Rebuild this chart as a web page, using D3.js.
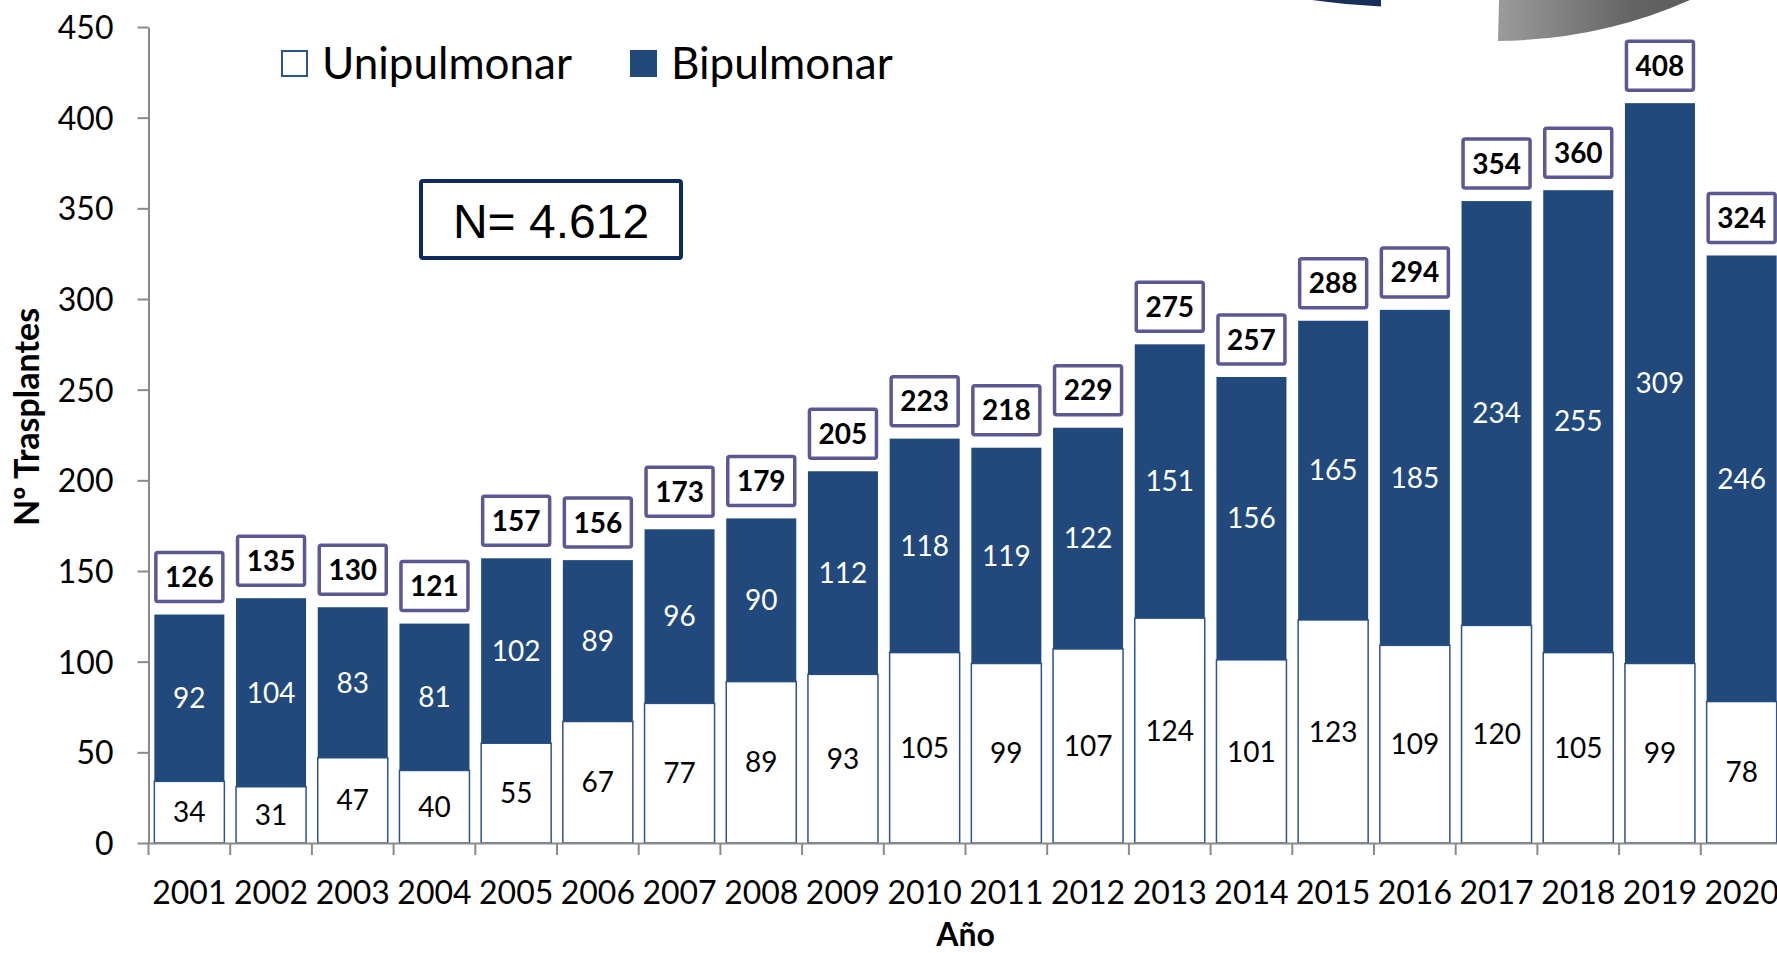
<!DOCTYPE html>
<html>
<head>
<meta charset="utf-8">
<script src="https://cdn.jsdelivr.net/npm/d3@7"></script>
<style>
  body { margin: 0; background: #fff; }
  svg { display: block; }
  .axis path, .axis line { stroke: #8a8a8a; stroke-width: 2; }
  .axis text { font-family: Lato, sans-serif; font-size: 32px; fill: #000; }
</style>
</head>
<body>
<div id="chart"></div>
<script>
// data
const years = ['2001','2002','2003','2004','2005','2006','2007','2008','2009','2010',
               '2011','2012','2013','2014','2015','2016','2017','2018','2019','2020'];
const unipulmonar = [34,31,47,40,55,67,77,89,93,105,99,107,124,101,123,109,120,105,99,78];
const bipulmonar = [92,104,83,81,102,89,96,90,112,118,119,122,151,156,165,185,234,255,309,246];
const yTicks = [0,50,100,150,200,250,300,350,400,450];
const seriesNames = ['Unipulmonar', 'Bipulmonar'];
const totalText = 'N= 4.612';

const width = 1777, height = 953;
const margin = { left: 148.5, top: 27, bottom: 843, right: 1782.5 };
const blue = '#21497c';

const svg = d3.select('#chart').append('svg')
  .attr('width', width)
  .attr('height', height);

const rows = years.map((yr, i) => ({ year: yr, uni: unipulmonar[i], bi: bipulmonar[i] }));

const x = d3.scaleBand()
  .domain(years)
  .range([margin.left, margin.right])
  .paddingInner(0.143)
  .paddingOuter(0.0715);
const y = d3.scaleLinear().domain([0, 450]).range([margin.bottom, margin.top]);

const stack = d3.stack().keys(['uni', 'bi'])(rows);

// logo pieces cut off at the top
const defs = svg.append('defs');
const grad = defs.append('linearGradient').attr('id', 'greyGrad')
  .attr('x1', '0%').attr('x2', '100%').attr('y1', '0%').attr('y2', '0%');
grad.append('stop').attr('offset', '0%').attr('stop-color', '#9b9b9b');
grad.append('stop').attr('offset', '70%').attr('stop-color', '#646464');
grad.append('stop').attr('offset', '100%').attr('stop-color', '#5c5c5c');
svg.append('path')
  .attr('d', 'M1312,0 Q1345,4.5 1381,6.5 L1381,0 Z')
  .attr('fill', '#17305a');
svg.append('path')
  .attr('d', 'M1499,0 L1498,41 Q1600,40 1690,0 Z')
  .attr('fill', 'url(#greyGrad)');

// stacked bars
const layers = svg.selectAll('.layer')
  .data(stack)
  .enter().append('g')
  .attr('class', 'layer');

layers.selectAll('rect')
  .data(d => d.map(v => Object.assign(v, { key: d.key })))
  .enter().append('rect')
  .attr('x', d => x(d.data.year))
  .attr('width', x.bandwidth())
  .attr('y', d => y(d[1]))
  .attr('height', d => y(d[0]) - y(d[1]))
  .attr('fill', d => d.key === 'uni' ? '#fff' : blue)
  .attr('stroke', d => d.key === 'uni' ? '#2c5490' : 'none')
  .attr('stroke-width', 1.5);

layers.selectAll('text')
  .data(d => d)
  .enter().append('text')
  .attr('x', d => x(d.data.year) + x.bandwidth() / 2)
  .attr('y', d => (y(d[0]) + y(d[1])) / 2)
  .attr('dy', '0.36em')
  .attr('text-anchor', 'middle')
  .style('font', '28px Lato, sans-serif')
  .style('fill', d => d.key === 'uni' ? '#000' : '#fff')
  .text(d => d[1] - d[0]);

// total boxes above each bar
const boxW = 67, boxH = 49;
const totals = svg.selectAll('.total')
  .data(rows)
  .enter().append('g')
  .attr('class', 'total')
  .attr('transform', d => `translate(${x(d.year) + x.bandwidth() / 2}, ${y(d.uni + d.bi) - 13 - boxH / 2})`);
totals.append('rect')
  .attr('x', -boxW / 2).attr('y', -boxH / 2)
  .attr('width', boxW).attr('height', boxH)
  .attr('rx', 2)
  .attr('fill', '#fff')
  .attr('stroke', '#5b5894')
  .attr('stroke-width', 3.5);
totals.append('text')
  .attr('text-anchor', 'middle')
  .attr('dy', '0.36em')
  .style('font', 'bold 28px Lato, sans-serif')
  .text(d => d.uni + d.bi);

// axes
const yAxis = svg.append('g')
  .attr('class', 'axis axis-y')
  .attr('transform', `translate(${margin.left},0)`)
  .call(d3.axisLeft(y).tickValues(yTicks).tickSize(11).tickSizeOuter(0).tickPadding(24));
yAxis.selectAll('text').attr('dy', '0.36em');

const xAxis = svg.append('g')
  .attr('class', 'axis axis-x')
  .attr('transform', `translate(0,${margin.bottom})`)
  .call(d3.axisBottom(x).tickSize(0).tickSizeOuter(0));
xAxis.selectAll('text').attr('y', 61).attr('dy', null);

// tick marks sit on the band edges, not the centres
const edges = years.map(yr => x(yr) - x.paddingOuter() * x.step()).concat([margin.right]);
xAxis.selectAll('.edge')
  .data(edges)
  .enter().append('line')
  .attr('class', 'edge')
  .attr('x1', d => d).attr('x2', d => d)
  .attr('y1', 0).attr('y2', 12);

// axis titles
svg.append('text')
  .attr('transform', 'translate(39,417) rotate(-90)')
  .attr('text-anchor', 'middle')
  .style('font', 'bold 34px Lato, sans-serif')
  .text('Nº Trasplantes');
svg.append('text')
  .attr('x', (margin.left + margin.right) / 2)
  .attr('y', 946)
  .attr('text-anchor', 'middle')
  .style('font', 'bold 32px Lato, sans-serif')
  .text('Año');

// legend
const legend = svg.append('g').attr('class', 'legend');
const legendX = [281, 630];
seriesNames.forEach((name, i) => {
  legend.append('rect')
    .attr('x', legendX[i] + 1).attr('y', 51)
    .attr('width', 25).attr('height', 25)
    .attr('fill', i === 0 ? '#fff' : blue)
    .attr('stroke', i === 0 ? '#2c5490' : blue)
    .attr('stroke-width', 2);
  legend.append('text')
    .attr('x', legendX[i] + 41)
    .attr('y', 79)
    .style('font', '44px Lato, sans-serif')
    .text(name);
});

// N box
svg.append('rect')
  .attr('x', 421).attr('y', 181)
  .attr('width', 260).attr('height', 77)
  .attr('rx', 2)
  .attr('fill', '#fff')
  .attr('stroke', '#0f2a5f')
  .attr('stroke-width', 4);
svg.append('text')
  .attr('x', 551).attr('y', 238)
  .attr('text-anchor', 'middle')
  .style('font', '48px "Liberation Sans", Arial, sans-serif')
  .text(totalText);
</script>
</body>
</html>
